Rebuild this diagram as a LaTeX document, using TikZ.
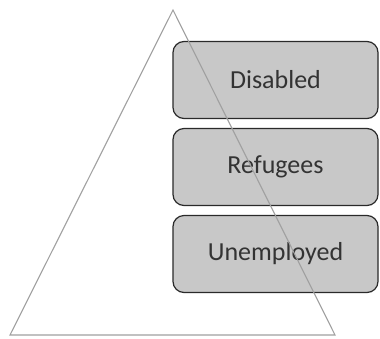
\documentclass[tikz,border=0pt]{standalone}
\usepackage{fontspec}
\setmainfont{Carlito}
\definecolor{boxfill}{HTML}{C8C8C8}
\definecolor{boxline}{HTML}{2A2A2A}
\definecolor{triline}{HTML}{A0A0A0}
\begin{document}
\begin{tikzpicture}[x=1pt,y=-1pt,
  levelbox/.style={draw=boxline, line width=1.2pt, fill=boxfill, rounded corners=11pt,
    minimum width=205pt, minimum height=77pt, inner sep=0pt, font=\fontsize{26}{31}\selectfont, text=black!80},
  tri/.style={draw=triline, line width=1.1pt}]
\useasboundingbox (0,0) rectangle (380,338);
\node[levelbox] (dis) at (275.5,80) {Disabled};
\node[levelbox] (ref) at (275.5,167) {Refugees};
\node[levelbox] (une) at (275.5,254) {Unemployed};
\coordinate (apex) at (173,10);
\coordinate (bl) at (10,335);
\coordinate (br) at (335,335);
\draw[tri] (apex) -- (br) -- (bl) -- cycle;
\end{tikzpicture}
\end{document}
